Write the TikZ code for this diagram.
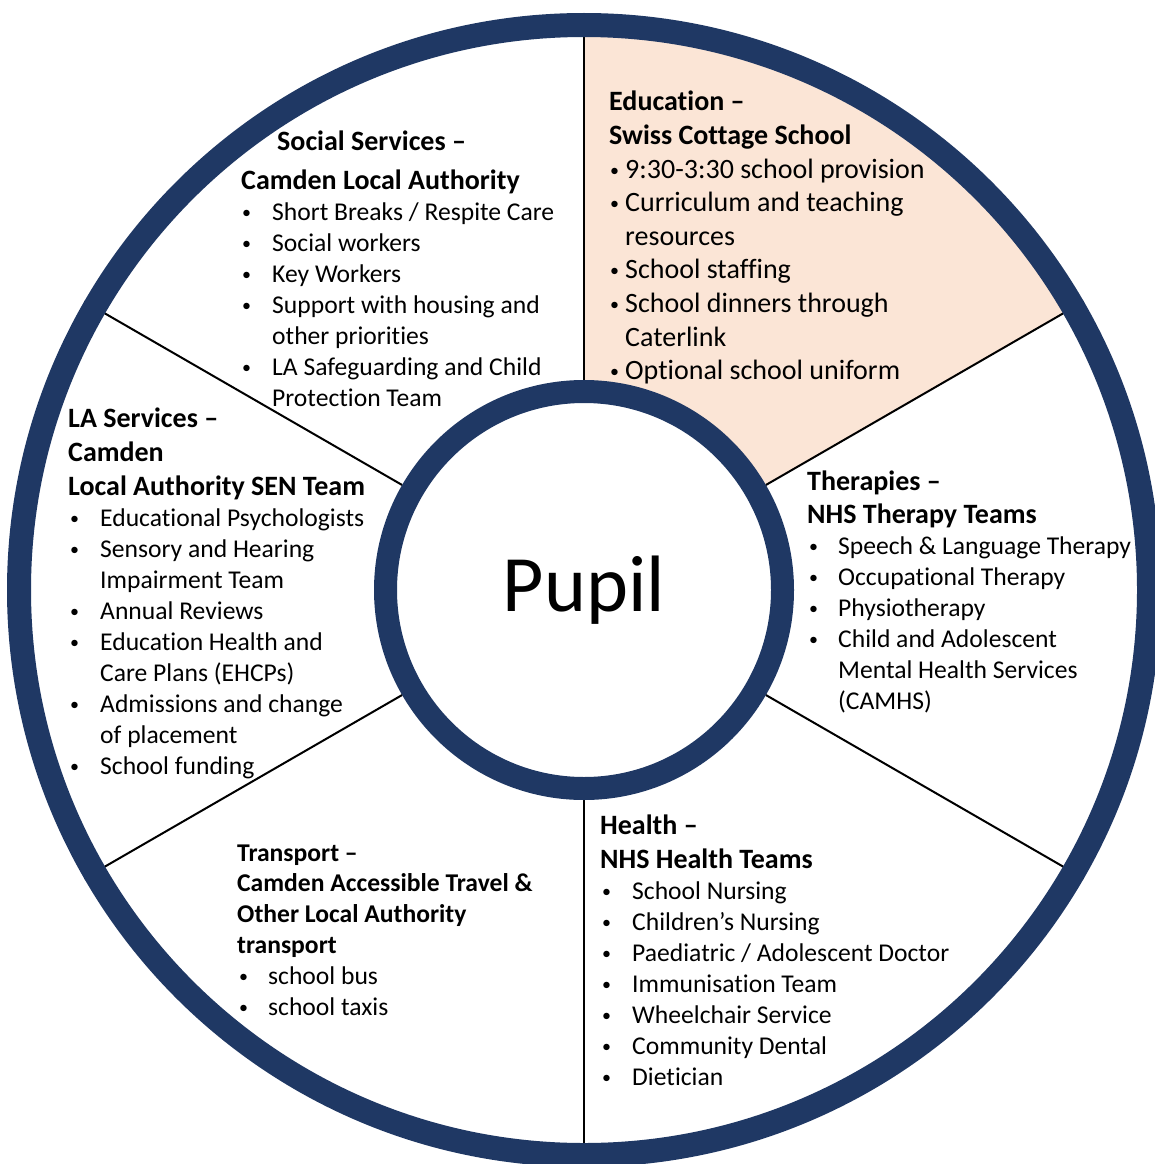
\documentclass[tikz,border=0pt]{standalone}
\usepackage{fontspec}
\setmainfont{Carlito}[Ligatures={TeX,NoCommon}]
\usetikzlibrary{backgrounds}
\definecolor{navy}{RGB}{31,56,100}
\definecolor{peach}{RGB}{251,229,214}
\begin{document}
\begin{tikzpicture}[x=1pt,y=-1pt,
  txt/.style={anchor=base west, inner sep=0pt, font=\fontsize{25.6}{31}\selectfont},
  hd/.style={anchor=base west, inner sep=0pt, font=\fontsize{28}{34}\selectfont\bfseries},
  hds/.style={anchor=base west, inner sep=0pt, font=\fontsize{25.6}{31}\selectfont\bfseries},
  edu/.style={anchor=base west, inner sep=0pt, font=\fontsize{28}{34}\selectfont},
  bul/.style={anchor=base west, inner sep=0pt, font=\fontsize{18}{18}\selectfont, yshift=2pt, xshift=2pt},
  ring/.style={circle, draw=navy, inner sep=0pt},
  spoke/.style={line width=2pt, black}
]
\useasboundingbox (0,0) rectangle (1154,1164);
\coordinate (C) at (584,590);
\node[ring, minimum size=1130pt, line width=24pt] (rim) at (C) {};
\node[ring, minimum size=397pt, line width=23pt, fill=white, font=\fontsize{80}{96}\selectfont] (pupil) at (C) {Pupil};
\begin{scope}[on background layer]
  \fill[white] (0,0) rectangle (1154,1164);
  \fill[peach] ([shift={(-90:565)}]C) arc[start angle=-90, end angle=-30, radius=565]
     -- ([shift={(-30:198)}]C) arc[start angle=-30, end angle=-90, radius=198] -- cycle;
  \foreach \a in {30,90,150,210,270,330} \draw[spoke] (pupil.\a) -- (rim.\a);
\end{scope}

% Social Services
\node[hd] (ss0) at (277,150) {Social Services –};
\node[hd] (ss1) at (241,189) {Camden Local Authority};
\foreach \y in {220,251,282,313,375} \node[bul] (ssb\y) at (240,\y) {•};
\node[txt] (ss2) at (272,220) {Short Breaks / Respite Care};
\node[txt] (ss3) at (272,251) {Social workers};
\node[txt] (ss4) at (272,282) {Key Workers};
\node[txt] (ss5) at (272,313) {Support with housing and};
\node[txt] (ss6) at (272,344) {other priorities};
\node[txt] (ss7) at (272,375) {LA Safeguarding and Child};
\node[txt] (ss8) at (272,406) {Protection Team};

% Education
\node[hd] (ed0) at (609,110) {Education –};
\node[hd] (ed1) at (609,144) {Swiss Cottage School};
\foreach \y in {178,211,278,312,379} \node[bul] (edb\y) at (608,\y) {•};
\node[edu] (ed2) at (625,178) {9:30-3:30 school provision};
\node[edu] (ed3) at (625,211) {Curriculum and teaching};
\node[edu] (ed4) at (625,245) {resources};
\node[edu] (ed5) at (625,278) {School staffing};
\node[edu] (ed6) at (625,312) {School dinners through};
\node[edu] (ed7) at (625,346) {Caterlink};
\node[edu] (ed8) at (625,379) {Optional school uniform};

% LA Services
\node[hd] (la0) at (68,427) {LA Services –};
\node[hd] (la1) at (68,461) {Camden};
\node[hd] (la2) at (68,495) {Local Authority SEN Team};
\foreach \y in {526,557,619,650,712,774} \node[bul] (lab\y) at (68,\y) {•};
\node[txt] (la3) at (100,526) {Educational Psychologists};
\node[txt] (la4) at (100,557) {Sensory and Hearing};
\node[txt] (la5) at (100,588) {Impairment Team};
\node[txt] (la6) at (100,619) {Annual Reviews};
\node[txt] (la7) at (100,650) {Education Health and};
\node[txt] (la8) at (100,681) {Care Plans (EHCPs)};
\node[txt] (la9) at (100,712) {Admissions and change};
\node[txt] (la10) at (100,743) {of placement};
\node[txt] (la11) at (100,774) {School funding};

% Therapies
\node[hd] (th0) at (807,490) {Therapies –};
\node[hd] (th1) at (807,523) {NHS Therapy Teams};
\foreach \y in {554,585,616,647} \node[bul] (thb\y) at (807,\y) {•};
\node[txt] (th2) at (838,554) {Speech \& Language Therapy};
\node[txt] (th3) at (838,585) {Occupational Therapy};
\node[txt] (th4) at (838,616) {Physiotherapy};
\node[txt] (th5) at (838,647) {Child and Adolescent};
\node[txt] (th6) at (838,678) {Mental Health Services};
\node[txt] (th7) at (838,709) {(CAMHS)};

% Health
\node[hd] (he0) at (600,834) {Health –};
\node[hd] (he1) at (600,868) {NHS Health Teams};
\foreach \y in {899,930,961,992,1023,1054,1085} \node[bul] (heb\y) at (600,\y) {•};
\node[txt] (he2) at (632,899) {School Nursing};
\node[txt] (he3) at (632,930) {Children’s Nursing};
\node[txt] (he4) at (632,961) {Paediatric / Adolescent Doctor};
\node[txt] (he5) at (632,992) {Immunisation Team};
\node[txt] (he6) at (632,1023) {Wheelchair Service};
\node[txt] (he7) at (632,1054) {Community Dental};
\node[txt] (he8) at (632,1085) {Dietician};

% Transport
\node[hds] (tr0) at (237,861) {Transport –};
\node[hds] (tr1) at (237,891) {Camden Accessible Travel \&};
\node[hds] (tr2) at (237,922) {Other Local Authority};
\node[hds] (tr3) at (237,953) {transport};
\foreach \y in {984,1015} \node[bul] (trb\y) at (237,\y) {•};
\node[txt] (tr4) at (268,984) {school bus};
\node[txt] (tr5) at (268,1015) {school taxis};
\end{tikzpicture}
\end{document}
